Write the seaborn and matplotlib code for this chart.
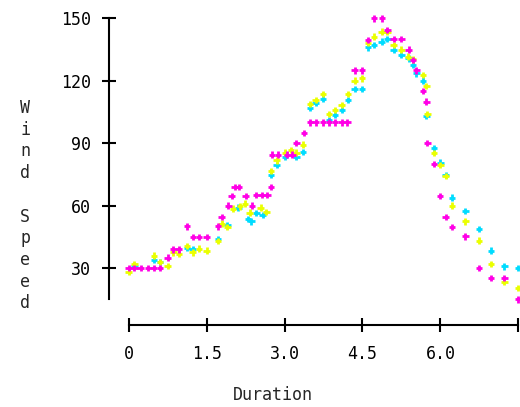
import matplotlib
matplotlib.use("Agg")
import matplotlib.pyplot as plt
import seaborn as sns
import pandas as pd

# ---- data ----
mag_x = [0.00, 0.11, 0.23, 0.38, 0.49, 0.60, 0.75, 0.86, 0.97, 1.12, 1.24, 1.35, 1.50,
         1.72, 1.79, 1.92, 1.98, 2.04, 2.12, 2.25, 2.37, 2.46, 2.57, 2.67, 2.74, 2.76,
         2.87, 3.05, 3.15, 3.23, 3.37, 3.49, 3.60, 3.74, 3.86, 3.97, 4.10, 4.21, 4.35,
         4.49, 4.61, 4.72, 4.88, 4.98, 5.10, 5.25, 5.39, 5.47, 5.54, 5.67, 5.73, 5.75,
         5.88, 5.99, 6.10, 6.22, 6.48, 6.74, 6.97, 7.23, 7.49]
mag_y = [30, 30, 30, 30, 30, 30, 35, 39, 39, 50, 45, 45, 45,
         50, 54.5, 60, 64.7, 69, 69, 64.7, 60, 65, 65, 65, 69, 84.5,
         84.5, 84.5, 84.5, 90, 95, 100, 100, 100, 100, 100, 100, 100, 125,
         125, 139.6, 150, 150, 144.4, 140, 140, 135, 130, 125, 115, 110, 90,
         80, 64.7, 54.5, 49.7, 45.2, 30, 25.2, 25.2, 15]

yel_x = [0.00, 0.11, 0.49, 0.60, 0.75, 0.86, 0.97, 1.12, 1.23, 1.35, 1.50, 1.72, 1.79,
         1.90, 2.01, 2.14, 2.24, 2.33, 2.54, 2.65, 2.74, 2.85, 3.01, 3.12, 3.23, 3.36,
         3.49, 3.60, 3.74, 3.86, 3.97, 4.10, 4.22, 4.35, 4.49, 4.61, 4.72, 4.87, 4.98,
         5.10, 5.25, 5.38, 5.47, 5.67, 5.73, 5.75, 5.88, 6.00, 6.10, 6.22, 6.48, 6.74,
         6.97, 7.23, 7.49]
yel_y = [28, 32, 36, 33, 31, 37.5, 37, 40.5, 37.5, 39.4, 38.4, 43, 51.4,
         49.8, 58.5, 59.6, 61, 56.7, 59, 57, 76.6, 81.7, 85.5, 86.8, 85.5, 89.3,
         108.9, 110.8, 113.7, 104, 106, 108.4, 113.7, 120, 121.2, 138.3, 141.2, 143.6, 143.6,
         137.2, 135, 131.6, 130.3, 122.8, 117.5, 104, 85.2, 79.6, 74.3, 60, 52.4, 43.2,
         32, 23.3, 20.5]

cya_x = [0.11, 0.49, 0.60, 1.12, 1.23, 1.72, 1.90, 2.11, 2.30, 2.36, 2.46, 2.58, 2.74,
         2.85, 3.01, 3.23, 3.36, 3.49, 3.60, 3.74, 3.86, 3.97, 4.11, 4.22, 4.35, 4.49,
         4.61, 4.72, 4.87, 4.98, 5.10, 5.25, 5.39, 5.47, 5.54, 5.67, 5.73, 5.88, 6.00,
         6.10, 6.22, 6.48, 6.74, 6.97, 7.23, 7.49]
cya_y = [31, 34, 33, 39.6, 39, 44, 50.8, 59, 53.5, 52.5, 56.5, 55.5, 74.8,
         79.6, 83.6, 83.6, 85.8, 106.8, 109.2, 111.4, 101, 103.6, 106, 110.8, 116, 116,
         136, 137.2, 138.8, 140, 135, 132.4, 130.8, 127.6, 123.6, 120, 103, 87.6, 80.7,
         74.8, 63.9, 57.5, 48.7, 38.4, 30.8, 30]

x_ticks = [0, 1.5, 3.0, 4.5, 6.0, 7.5]
x_tick_labels = ["0", "1.5", "3.0", "4.5", "6.0", ""]
y_ticks = [30, 60, 90, 120, 150]
y_tick_labels = ["30", "60", "90", "120", "150"]
x_label = "Duration"
y_label = "Wind Speed"

series_colors = {"cyan": "#00dcff", "yellow": "#eaff00", "magenta": "#ff00e6"}

df = pd.concat([
    pd.DataFrame({"Duration": cya_x, "Wind Speed": cya_y, "series": "cyan"}),
    pd.DataFrame({"Duration": yel_x, "Wind Speed": yel_y, "series": "yellow"}),
    pd.DataFrame({"Duration": mag_x, "Wind Speed": mag_y, "series": "magenta"}),
], ignore_index=True)

# ---- style ----
sns.set_style("white")
plt.rcParams["font.family"] = ["DejaVu Sans Mono", "DejaVu Sans"]
plt.rcParams["font.size"] = 12

W, H = 520, 407
fig = plt.figure(figsize=(W / 100, H / 100), dpi=100)
x0, x1 = 128.7, 518.3
ytop, ybot = 18.3, 299.3
ax = fig.add_axes([x0 / W, (H - ybot) / H, (x1 - x0) / W, (ybot - ytop) / H])

sns.scatterplot(data=df, x="Duration", y="Wind Speed", hue="series",
                palette=series_colors, marker="+", s=22, linewidth=2.0,
                legend=False, ax=ax, clip_on=False, zorder=3)

ax.set_xlim(0, 7.5)
ax.set_ylim(15, 150)
ax.set_xticks(x_ticks)
ax.set_xticklabels(x_tick_labels)
ax.set_yticks(y_ticks)
ax.set_yticklabels(y_tick_labels)
ax.set_xlabel("")
ax.set_ylabel("")

for s in ("top", "right"):
    ax.spines[s].set_visible(False)
ax.spines["left"].set_position(("outward", 14.4))
ax.spines["bottom"].set_position(("outward", 18.5))
for s in ("left", "bottom"):
    ax.spines[s].set_linewidth(1.5)
    ax.spines[s].set_color("black")

ax.tick_params(axis="both", direction="inout", length=10, width=1.5,
               colors="black", labelsize=12, bottom=True, left=True)
ax.tick_params(axis="y", pad=7.5)
ax.tick_params(axis="x", pad=9.5)

# x label (placed as in reference)
fig.text(272.5 / W, 1 - 400 / H, x_label, ha="center", va="baseline", fontsize=12)

# y label: stacked letters
for i, ch in enumerate(y_label):
    fig.text(25 / W, 1 - (113 + 21.7 * i) / H, ch, ha="center", va="baseline", fontsize=12)

fig.savefig("out.png", dpi=100)
